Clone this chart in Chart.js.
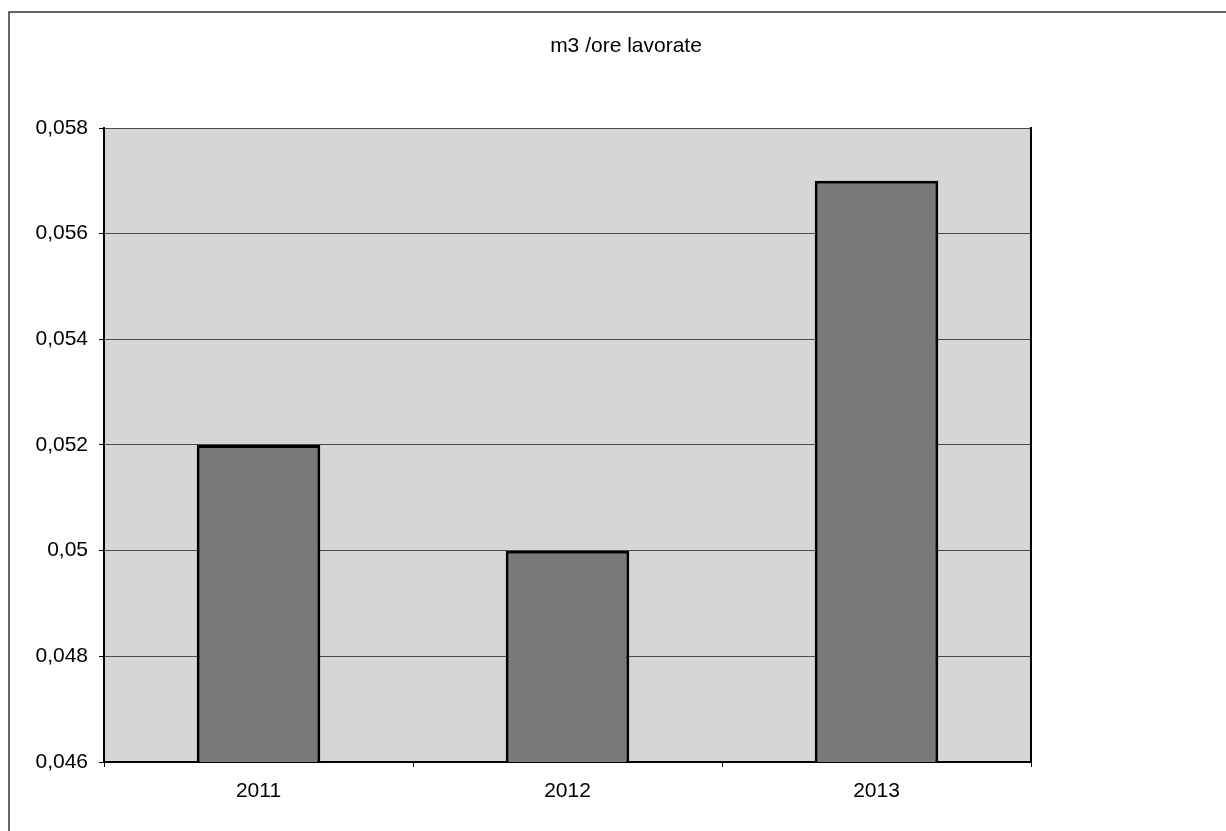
<!DOCTYPE html>
<html>
<head>
<meta charset="utf-8">
<script src="https://cdn.jsdelivr.net/npm/chart.js@4/dist/chart.umd.min.js"></script>
<style>
  html, body { margin: 0; padding: 0; background: #ffffff; }
  #wrap { width: 1226px; height: 831px; position: relative; }
</style>
</head>
<body>
<div id="wrap"><canvas id="c" width="1226" height="831"></canvas></div>
<script>
const chartTitle = 'm3 /ore lavorate';
const categories = ['2011', '2012', '2013'];
const values = [0.052, 0.050, 0.057];
const yMin = 0.046;
const yMax = 0.058;
const yStep = 0.002;

const FONT = "'Liberation Sans', Arial, sans-serif";

const framePlugin = {
  id: 'frame',
  beforeDraw(chart) {
    const ctx = chart.ctx;
    const a = chart.chartArea;
    ctx.save();
    ctx.fillStyle = '#ffffff';
    ctx.fillRect(0, 0, chart.width, chart.height);
    // outer frame (left and top edges)
    ctx.strokeStyle = '#333333';
    ctx.lineWidth = 1.5;
    ctx.beginPath();
    ctx.moveTo(9, chart.height);
    ctx.lineTo(9, 12);
    ctx.lineTo(chart.width, 12);
    ctx.stroke();
    // plot area background
    ctx.fillStyle = '#d6d6d6';
    ctx.fillRect(a.left, a.top, a.right - a.left, a.bottom - a.top);
    ctx.restore();
  }
};

new Chart(document.getElementById('c'), {
  type: 'bar',
  data: {
    labels: categories,
    datasets: [{
      data: values,
      backgroundColor: '#7a7a7a',
      borderColor: '#000000',
      borderWidth: 3,
      barPercentage: 0.4,
      categoryPercentage: 1.0
    }]
  },
  options: {
    responsive: false,
    animation: false,
    devicePixelRatio: 1,
    layout: { padding: { left: 26, right: 0, top: 0, bottom: 0 } },
    plugins: {
      legend: { display: false },
      tooltip: { enabled: false },
      title: {
        display: true,
        text: chartTitle,
        color: '#000000',
        font: { family: FONT, size: 21, weight: 'normal', lineHeight: 1.2 },
        padding: { top: 34, bottom: 68.8 }
      }
    },
    scales: {
      x: {
        grid: {
          display: true,
          drawOnChartArea: false,
          drawTicks: true,
          tickLength: 5,
          tickColor: '#000000'
        },
        border: { display: true, color: '#000000', width: 2 },
        ticks: {
          color: '#000000',
          font: { family: FONT, size: 21, lineHeight: 1.2 },
          padding: 12,
          maxRotation: 0
        },
        afterFit(scale) { scale.height = 69; }
      },
      y: {
        min: yMin,
        max: yMax,
        grid: {
          color: '#4a4a4a',
          lineWidth: 1,
          drawTicks: true,
          tickLength: 5,
          tickColor: '#000000'
        },
        border: { display: true, color: '#000000', width: 2 },
        ticks: {
          stepSize: yStep,
          color: '#000000',
          font: { family: FONT, size: 21, lineHeight: 1.2 },
          padding: 11,
          callback(v) { return String(Number(v.toFixed(3))).replace('.', ','); }
        },
        afterFit(scale) { scale.width = 78; }
      },
      yRight: {
        position: 'right',
        display: true,
        grid: { display: false, drawTicks: false },
        border: { display: true, color: '#000000', width: 2 },
        ticks: { display: false },
        afterFit(scale) { scale.width = 195; }
      }
    }
  },
  plugins: [framePlugin]
});
</script>
</body>
</html>
